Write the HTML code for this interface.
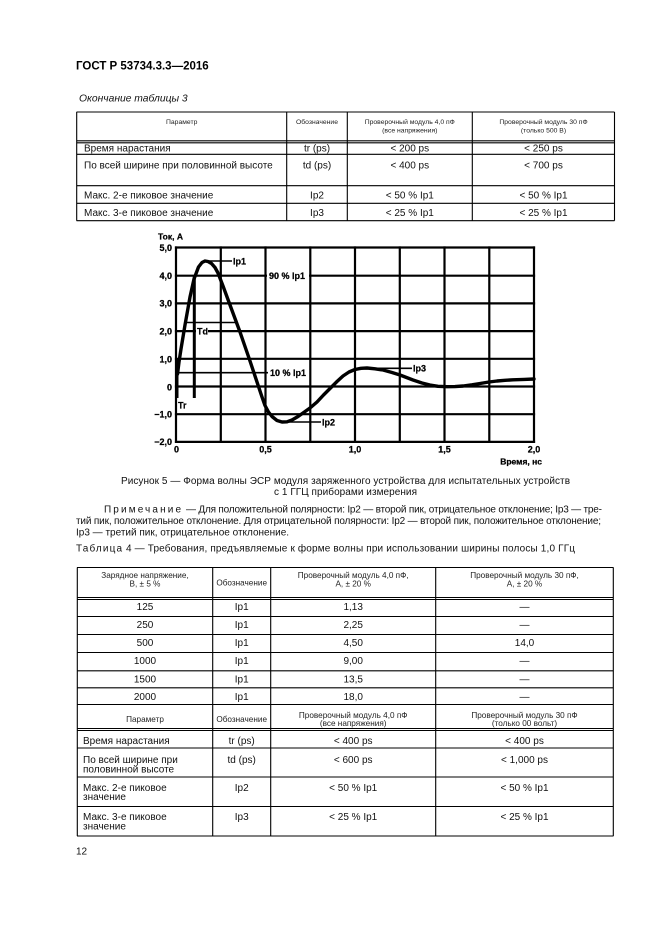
<!DOCTYPE html>
<html><head><meta charset="utf-8"><style>
html,body{margin:0;padding:0;background:#fff}
#pg{position:relative;width:661px;height:936px;overflow:hidden;background:#fff}
svg{position:absolute;left:0;top:0}
text{font-family:"Liberation Sans","DejaVu Sans",sans-serif;fill:#111}
.b{font-size:10px}
.h3{font-size:6.8px;fill:#222}
.h4{font-size:8.2px;fill:#222}
.c{font-size:9px;font-weight:bold;fill:#000;stroke:#000;stroke-width:0.25}
</style></head><body><div id="pg">
<svg width="661" height="936" viewBox="0 0 661 936" xmlns="http://www.w3.org/2000/svg">
<!-- header -->
<text x="76" y="69.5" style="font-size:11.5px;font-weight:bold;fill:#000">ГОСТ Р 53734.3.3—2016</text>
<text x="79" y="101.5" style="font-size:10.3px;font-style:italic">Окончание таблицы 3</text>

<!-- table 3 -->
<g stroke="#000" stroke-width="1.1" fill="none">
<line x1="76.5" y1="112" x2="614.5" y2="112"/>
<line x1="76.5" y1="140.8" x2="614.5" y2="140.8"/>
<line x1="76.5" y1="142.8" x2="614.5" y2="142.8"/>
<line x1="76.5" y1="154.3" x2="614.5" y2="154.3"/>
<line x1="76.5" y1="185.7" x2="614.5" y2="185.7"/>
<line x1="76.5" y1="203.3" x2="614.5" y2="203.3"/>
<line x1="76.5" y1="220.7" x2="614.5" y2="220.7"/>
<line x1="76.7" y1="112" x2="76.7" y2="220.7"/>
<line x1="286.7" y1="112" x2="286.7" y2="220.7"/>
<line x1="347.3" y1="112" x2="347.3" y2="220.7"/>
<line x1="472.3" y1="112" x2="472.3" y2="220.7"/>
<line x1="614.5" y1="112" x2="614.5" y2="220.7"/>
</g>
<g text-anchor="middle" class="h3">
<text class="h3" x="181.7" y="124.1">Параметр</text>
<text class="h3" x="317" y="124.1">Обозначение</text>
<text class="h3" x="409.8" y="124.1">Проверочный модуль 4,0 пФ</text>
<text class="h3" x="409.8" y="132.4">(все напряжения)</text>
<text class="h3" x="543.5" y="124.1">Проверочный модуль 30 пФ</text>
<text class="h3" x="543.5" y="132.4">(только 500 В)</text>
</g>
<g class="b">
<text class="b" x="84" y="151.5">Время нарастания</text>
<text class="b" x="84" y="168.5">По всей ширине при половинной высоте</text>
<text class="b" x="84" y="198.5">Макс. 2-е пиковое значение</text>
<text class="b" x="84" y="216">Макс. 3-е пиковое значение</text>
</g>
<g text-anchor="middle">
<text class="b" x="317" y="151.5">tr (ps)</text>
<text class="b" x="317" y="168.5">td (ps)</text>
<text class="b" x="317" y="198.5">Ip2</text>
<text class="b" x="317" y="216">Ip3</text>
<text class="b" x="409.8" y="151.5">&lt; 200 ps</text>
<text class="b" x="409.8" y="168.5">&lt; 400 ps</text>
<text class="b" x="409.8" y="198.5">&lt; 50 % Ip1</text>
<text class="b" x="409.8" y="216">&lt; 25 % Ip1</text>
<text class="b" x="543.5" y="151.5">&lt; 250 ps</text>
<text class="b" x="543.5" y="168.5">&lt; 700 ps</text>
<text class="b" x="543.5" y="198.5">&lt; 50 % Ip1</text>
<text class="b" x="543.5" y="216">&lt; 25 % Ip1</text>
</g>

<!-- chart grid -->
<g stroke="#000" stroke-width="2.2" fill="none" stroke-linecap="square">
<line x1="176" y1="247.5" x2="534" y2="247.5"/>
<line x1="176" y1="275.7" x2="534" y2="275.7"/>
<line x1="176" y1="303.4" x2="534" y2="303.4"/>
<line x1="176" y1="331.1" x2="534" y2="331.1"/>
<line x1="176" y1="358.8" x2="534" y2="358.8"/>
<line x1="176" y1="386.5" x2="534" y2="386.5"/>
<line x1="176" y1="414.2" x2="534" y2="414.2"/>
<line x1="176" y1="441.9" x2="534" y2="441.9"/>
<line x1="176" y1="247.5" x2="176" y2="441.9"/>
<line x1="220.8" y1="247.5" x2="220.8" y2="441.9"/>
<line x1="265.5" y1="247.5" x2="265.5" y2="441.9"/>
<line x1="310.3" y1="247.5" x2="310.3" y2="441.9"/>
<line x1="355" y1="247.5" x2="355" y2="441.9"/>
<line x1="399.8" y1="247.5" x2="399.8" y2="441.9"/>
<line x1="444.5" y1="247.5" x2="444.5" y2="441.9"/>
<line x1="489.3" y1="247.5" x2="489.3" y2="441.9"/>
<line x1="534" y1="247.5" x2="534" y2="441.9"/>
</g>
<!-- markers -->
<g stroke="#000" fill="none">
<line x1="177" y1="358" x2="177" y2="398" stroke-width="3"/>
<line x1="194.3" y1="276" x2="194.3" y2="398" stroke-width="3"/>
<line x1="185" y1="322.5" x2="236" y2="322.5" stroke-width="1.6"/>
<line x1="176" y1="372.7" x2="268" y2="372.7" stroke-width="1.6"/>
<line x1="205" y1="261" x2="232" y2="261" stroke-width="1.6"/>
<line x1="283" y1="422" x2="321" y2="422" stroke-width="1.6"/>
<line x1="367" y1="368.3" x2="412" y2="368.3" stroke-width="1.6"/>
</g>
<!-- curve -->
<polyline fill="none" stroke="#000" stroke-width="3.4" stroke-linejoin="round" stroke-linecap="round"
points="177.5,374 179,362 181,349 185,325 190,297 194,279 198.5,267 202,262.5 205,261 208,261.5 211.5,263.5 215,267.5 218,273 223,286 230,305 240,332 250,361 258,385 262,397 265,405.5 268.5,412 272,416.5 277,420.5 282,422 287,421.8 292,420 298,416.5 303,413 310,408 317,402 323.5,395 330,388.5 337,381.5 343,376 349,372 355,369.5 361,368.3 367,368 375,368.8 383,370 392,372.5 400,375 413,380 422,383 430,385 438,386.3 447,386.7 455,386.6 463,386 472,384.8 480,383.5 489,382 497,381 505,380.3 513,379.8 524,379.4 534,379"/>
<!-- label bgs -->
<rect x="267" y="270" width="42" height="12" fill="#fff"/>
<rect x="196" y="325.5" width="12" height="11" fill="#fff"/>
<rect x="268" y="367" width="41" height="11" fill="#fff"/>
<!-- chart labels -->
<text class="c" x="158" y="239.5" style="font-size:8.5px">Ток, А</text>
<g text-anchor="end">
<text class="c" x="172" y="251.2">5,0</text>
<text class="c" x="172" y="278.9">4,0</text>
<text class="c" x="172" y="306.6">3,0</text>
<text class="c" x="172" y="334.3">2,0</text>
<text class="c" x="172" y="362.5">1,0</text>
<text class="c" x="172" y="390.5">0</text>
<text class="c" x="172" y="417.4">−1,0</text>
<text class="c" x="172" y="445.1">−2,0</text>
<text class="c" x="542" y="464.5" style="font-size:8.5px">Время, нс</text>
</g>
<g text-anchor="middle">
<text class="c" x="176.5" y="452.5">0</text>
<text class="c" x="265.5" y="452.5">0,5</text>
<text class="c" x="355" y="452.5">1,0</text>
<text class="c" x="444.5" y="452.5">1,5</text>
<text class="c" x="534" y="452.5">2,0</text>
</g>
<text class="c" x="233" y="264.3">Ip1</text>
<text class="c" x="269" y="279">90 % Ip1</text>
<text class="c" x="197" y="334.5">Td</text>
<text class="c" x="270" y="376">10 % Ip1</text>
<text class="c" x="322" y="425.3">Ip2</text>
<text class="c" x="413" y="371.6">Ip3</text>
<text class="c" x="178" y="408.5">Tr</text>

<!-- caption & note -->
<text class="b" x="345.5" y="484" text-anchor="middle" textLength="449" lengthAdjust="spacing">Рисунок 5 — Форма волны ЭСР модуля заряженного устройства для испытательных устройств</text>
<text class="b" x="345.5" y="495" text-anchor="middle" textLength="143" lengthAdjust="spacing">с 1 ГГЦ приборами измерения</text>
<text class="b" x="104" y="512.5" textLength="77" lengthAdjust="spacing">Примечание</text>
<text class="b" x="186" y="512.5" textLength="416" lengthAdjust="spacing">— Для положительной полярности: Ip2 — второй пик, отрицательное отклонение; Ip3 — тре-</text>
<text class="b" x="76" y="524" textLength="525" lengthAdjust="spacing">тий пик, положительное отклонение. Для отрицательной полярности: Ip2 — второй пик, положительное отклонение;</text>
<text class="b" x="76" y="535.5">Ip3 — третий пик, отрицательное отклонение.</text>
<text class="b" x="76" y="551.5" textLength="46" lengthAdjust="spacing">Таблица</text>
<text class="b" x="126" y="551.5" textLength="449" lengthAdjust="spacing">4 — Требования, предъявляемые к форме волны при использовании ширины полосы 1,0 ГГц</text>

<!-- table 4 -->
<g stroke="#000" stroke-width="1.1" fill="none">
<line x1="77" y1="567.5" x2="613.5" y2="567.5"/>
<line x1="77" y1="597.5" x2="613.5" y2="597.5"/>
<line x1="77" y1="599.5" x2="613.5" y2="599.5"/>
<line x1="77" y1="616.5" x2="613.5" y2="616.5"/>
<line x1="77" y1="634.5" x2="613.5" y2="634.5"/>
<line x1="77" y1="652.5" x2="613.5" y2="652.5"/>
<line x1="77" y1="670.8" x2="613.5" y2="670.8"/>
<line x1="77" y1="687.8" x2="613.5" y2="687.8"/>
<line x1="77" y1="704.5" x2="613.5" y2="704.5"/>
<line x1="77" y1="728.5" x2="613.5" y2="728.5"/>
<line x1="77" y1="730.5" x2="613.5" y2="730.5"/>
<line x1="77" y1="748" x2="613.5" y2="748"/>
<line x1="77" y1="777" x2="613.5" y2="777"/>
<line x1="77" y1="806.5" x2="613.5" y2="806.5"/>
<line x1="77" y1="836" x2="613.5" y2="836"/>
<line x1="77.3" y1="567.5" x2="77.3" y2="836"/>
<line x1="212.7" y1="567.5" x2="212.7" y2="836"/>
<line x1="270.7" y1="567.5" x2="270.7" y2="836"/>
<line x1="435.7" y1="567.5" x2="435.7" y2="836"/>
<line x1="613.3" y1="567.5" x2="613.3" y2="836"/>
</g>
<g text-anchor="middle">
<text class="h4" x="145" y="578">Зарядное напряжение,</text>
<text class="h4" x="145" y="586.5">В, ± 5 %</text>
<text class="h4" x="241.7" y="585.5">Обозначение</text>
<text class="h4" x="353.2" y="578">Проверочный модуль 4,0 пФ,</text>
<text class="h4" x="353.2" y="586.5">А, ± 20 %</text>
<text class="h4" x="524.5" y="578">Проверочный модуль 30 пФ,</text>
<text class="h4" x="524.5" y="586.5">А, ± 20 %</text>

<text class="b" x="145" y="610.2">125</text>
<text class="b" x="145" y="627.8">250</text>
<text class="b" x="145" y="646.2">500</text>
<text class="b" x="145" y="664.2">1000</text>
<text class="b" x="145" y="682.5">1500</text>
<text class="b" x="145" y="700.2">2000</text>
<text class="b" x="241.7" y="610.2">Ip1</text>
<text class="b" x="241.7" y="627.8">Ip1</text>
<text class="b" x="241.7" y="646.2">Ip1</text>
<text class="b" x="241.7" y="664.2">Ip1</text>
<text class="b" x="241.7" y="682.5">Ip1</text>
<text class="b" x="241.7" y="700.2">Ip1</text>
<text class="b" x="353.2" y="610.2">1,13</text>
<text class="b" x="353.2" y="627.8">2,25</text>
<text class="b" x="353.2" y="646.2">4,50</text>
<text class="b" x="353.2" y="664.2">9,00</text>
<text class="b" x="353.2" y="682.5">13,5</text>
<text class="b" x="353.2" y="700.2">18,0</text>
<text class="b" x="524.5" y="610.2">—</text>
<text class="b" x="524.5" y="627.8">—</text>
<text class="b" x="524.5" y="646.2">14,0</text>
<text class="b" x="524.5" y="664.2">—</text>
<text class="b" x="524.5" y="682.5">—</text>
<text class="b" x="524.5" y="700.2">—</text>

<text class="h4" x="145" y="721.9">Параметр</text>
<text class="h4" x="241.7" y="721.9">Обозначение</text>
<text class="h4" x="353.2" y="717.9">Проверочный модуль 4,0 пФ</text>
<text class="h4" x="353.2" y="726.2">(все напряжения)</text>
<text class="h4" x="524.5" y="717.9">Проверочный модуль 30 пФ</text>
<text class="h4" x="524.5" y="726.2">(только 00 вольт)</text>

<text class="b" x="241.7" y="744.2">tr (ps)</text>
<text class="b" x="241.7" y="762.8">td (ps)</text>
<text class="b" x="241.7" y="790.8">Ip2</text>
<text class="b" x="241.7" y="820.2">Ip3</text>
<text class="b" x="353.2" y="744.2">&lt; 400 ps</text>
<text class="b" x="353.2" y="762.8">&lt; 600 ps</text>
<text class="b" x="353.2" y="790.8">&lt; 50 % Ip1</text>
<text class="b" x="353.2" y="820.2">&lt; 25 % Ip1</text>
<text class="b" x="524.5" y="744.2">&lt; 400 ps</text>
<text class="b" x="524.5" y="762.8">&lt; 1,000 ps</text>
<text class="b" x="524.5" y="790.8">&lt; 50 % Ip1</text>
<text class="b" x="524.5" y="820.2">&lt; 25 % Ip1</text>
</g>
<text class="b" x="83" y="744.2">Время нарастания</text>
<text class="b" x="83" y="762.8">По всей ширине при</text>
<text class="b" x="83" y="772.5">половинной высоте</text>
<text class="b" x="83" y="790.8">Макс. 2-е пиковое</text>
<text class="b" x="83" y="800.2">значение</text>
<text class="b" x="83" y="820.2">Макс. 3-е пиковое</text>
<text class="b" x="83" y="829.5">значение</text>

<text class="b" x="76" y="854.5">12</text>
</svg>
</div></body></html>
